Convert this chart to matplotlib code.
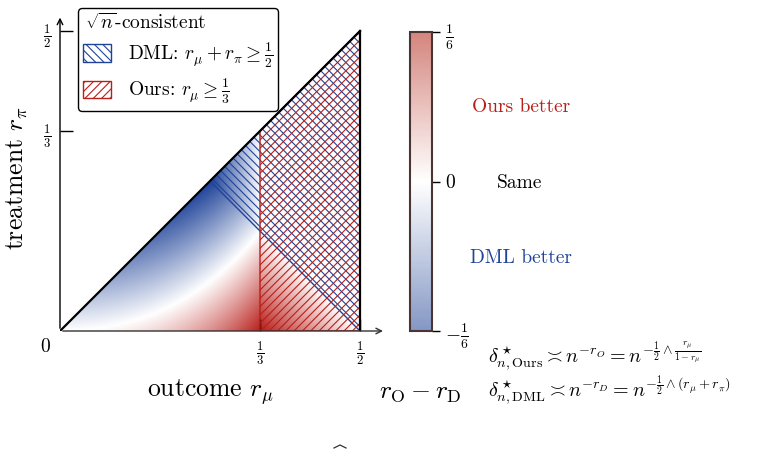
import numpy as np
import matplotlib
matplotlib.use("Agg")
import matplotlib.pyplot as plt
from matplotlib.colors import LinearSegmentedColormap, Normalize
from matplotlib.patches import Polygon, Patch
from matplotlib.lines import Line2D
from matplotlib.cm import ScalarMappable

plt.rcParams["font.family"] = "serif"
plt.rcParams["font.serif"] = ["cmr10"]
plt.rcParams["mathtext.fontset"] = "cm"
plt.rcParams["axes.formatter.use_mathtext"] = True
plt.rcParams["hatch.linewidth"] = 0.8

# values shown on the axes
x_ticks = [1/3, 1/2]
x_ticklabels = [r"$\frac{1}{3}$", r"$\frac{1}{2}$"]
y_ticks = [1/3, 1/2]
y_ticklabels = [r"$\frac{1}{3}$", r"$\frac{1}{2}$"]
cbar_ticks = [-1/6, 0, 1/6]
cbar_ticklabels = [r"$-\frac{1}{6}$", r"$0$", r"$\frac{1}{6}$"]

# region boundaries
r_max = 1/2
ours_thresh = 1/3          # r_mu >= 1/3
dml_thresh = 1/2           # r_mu + r_pi >= 1/2

blue = "#1f4399"
red = "#b81f1a"
cmap = LinearSegmentedColormap.from_list("diff", [blue, "white", red])
cmap_bar = LinearSegmentedColormap.from_list(
    "diff_light", ["#8497c4", "white", "#d4857d"])
norm = Normalize(-1/6, 1/6)


def rate_diff(rmu, rpi):
    r_o = np.minimum(0.5, rmu / (1 - rmu))
    r_d = np.minimum(0.5, rmu + rpi)
    return r_o - r_d


fig = plt.figure(figsize=(7.57, 4.49), dpi=100)
W, H = 757, 449


def px(x0, y0, x1, y1):
    return [x0 / W, 1 - y1 / H, (x1 - x0) / W, (y1 - y0) / H]


# 600 px per unit, origin at (60, 331)
xmax, ymax = 0.56, 0.535
ax = fig.add_axes(px(60, 331 - ymax * 600, 60 + xmax * 600, 331))
ax.set_xlim(0, xmax)
ax.set_ylim(0, ymax)
for s in ax.spines.values():
    s.set_visible(False)

n = 700
g = np.linspace(0, r_max, n)
RMU, RPI = np.meshgrid(g, g)
Z = np.ma.masked_where(RPI > RMU, rate_diff(RMU, RPI))
ax.imshow(Z, origin="lower", extent=[0, r_max, 0, r_max], cmap=cmap,
          norm=norm, interpolation="bilinear", aspect="auto", zorder=1)

# hatched regions
dml_hatch = "\\\\\\\\"
ours_hatch = "////"
dml_poly = Polygon([(dml_thresh / 2, dml_thresh / 2), (r_max, r_max), (r_max, 0)],
                   closed=True, facecolor="none", edgecolor=blue,
                   hatch=dml_hatch, lw=1.0, zorder=2)
ours_poly = Polygon([(ours_thresh, 0), (ours_thresh, ours_thresh), (r_max, r_max),
                     (r_max, 0)], closed=True, facecolor="none", edgecolor=red,
                    hatch=ours_hatch, lw=1.0, zorder=2)
ax.add_patch(dml_poly)
ax.add_patch(ours_poly)

# triangle edges
ax.plot([0, r_max], [0, r_max], color="black", lw=1.6, zorder=3)
ax.plot([r_max, r_max], [0, r_max], color="black", lw=1.6, zorder=3)

# axes with arrows
ax.annotate("", xy=(0.543, 0), xytext=(0, 0),
            arrowprops=dict(arrowstyle="->", lw=1.0, color="#333333"),
            annotation_clip=False, zorder=4)
ax.annotate("", xy=(0, 0.527), xytext=(0, 0),
            arrowprops=dict(arrowstyle="->", lw=1.0, color="black"),
            annotation_clip=False, zorder=4)

ax.set_xticks(x_ticks)
ax.set_xticklabels(x_ticklabels, fontsize=13)
ax.set_yticks(y_ticks)
ax.set_yticklabels(y_ticklabels, fontsize=13)
ax.tick_params(axis="x", direction="in", length=9, width=1.0, pad=6)
ax.tick_params(axis="y", direction="in", length=9, width=1.0, pad=6)
for t in ax.xaxis.get_major_ticks() + ax.yaxis.get_major_ticks():
    t.tick1line.set_zorder(5)

fig.text(45 / W, 1 - 347 / H, "0", fontsize=14, ha="center", va="center")
fig.text(210 / W, 1 - 392 / H, r"outcome $r_\mu$", fontsize=18.5,
         ha="center", va="center")
fig.text(17 / W, 1 - 178 / H, r"treatment $r_\pi$", fontsize=18.5,
         ha="center", va="center", rotation=90)

# legend
handles = [
    Patch(facecolor="white", edgecolor=blue, hatch=dml_hatch, lw=1.0),
    Patch(facecolor="white", edgecolor=red, hatch=ours_hatch, lw=1.0),
]
labels = [r"DML: $r_\mu + r_\pi \geq \frac{1}{2}$",
          r"Ours: $r_\mu \geq \frac{1}{3}$"]
leg = ax.legend(handles, labels, title=r"$\,\sqrt{n}$-consistent",
                loc="upper left", bbox_to_anchor=(78 / W, 1 - 8 / H),
                bbox_transform=fig.transFigure, borderaxespad=0,
                fontsize=14, title_fontsize=14, fancybox=True, framealpha=1,
                edgecolor="black", handlelength=1.45, handleheight=1.0,
                borderpad=0.25, labelspacing=0.35, handletextpad=0.85)
leg.get_frame().set_linewidth(1.0)
leg._legend_box.align = "left"
leg.set_zorder(10)

# colorbar
cax = fig.add_axes(px(410, 32, 432, 331))
sm = ScalarMappable(norm=norm, cmap=cmap_bar)
cb = fig.colorbar(sm, cax=cax, ticks=cbar_ticks)
cb.set_ticklabels(cbar_ticklabels)
cb.ax.tick_params(labelsize=14, length=6, width=1.0)
cb.outline.set_edgecolor("#4a3434")
cb.outline.set_linewidth(1.5)

fig.text(521 / W, 1 - 107 / H, "Ours better", fontsize=14, color=red,
         ha="center", va="center")
fig.text(520 / W, 1 - 183 / H, "Same", fontsize=14, color="black",
         ha="center", va="center")
fig.text(521 / W, 1 - 258 / H, "DML better", fontsize=14, color=blue,
         ha="center", va="center")

fig.text(420 / W, 1 - 392 / H, r"$r_{\mathrm{O}} - r_{\mathrm{D}}$",
         fontsize=18.5, ha="center", va="center")
fig.text(488 / W, 1 - 356 / H,
         r"$\delta^\star_{n,\mathrm{Ours}} \asymp n^{-r_O} = "
         r"n^{-\frac{1}{2}\wedge\frac{r_\mu}{1-r_\mu}}$",
         fontsize=14.5, ha="left", va="center")
fig.text(488 / W, 1 - 391 / H,
         r"$\delta^\star_{n,\mathrm{DML}} \asymp n^{-r_D} = "
         r"n^{-\frac{1}{2}\wedge(r_\mu+r_\pi)}$",
         fontsize=14.5, ha="left", va="center")

# clipped hat glyph at the very bottom edge
fig.add_artist(Line2D([334 / W, 340 / W, 346 / W],
                      [1 - 448 / H, 1 - 445 / H, 1 - 448 / H],
                      color="#333333", lw=0.9))

fig.savefig("out.png", dpi=100)
